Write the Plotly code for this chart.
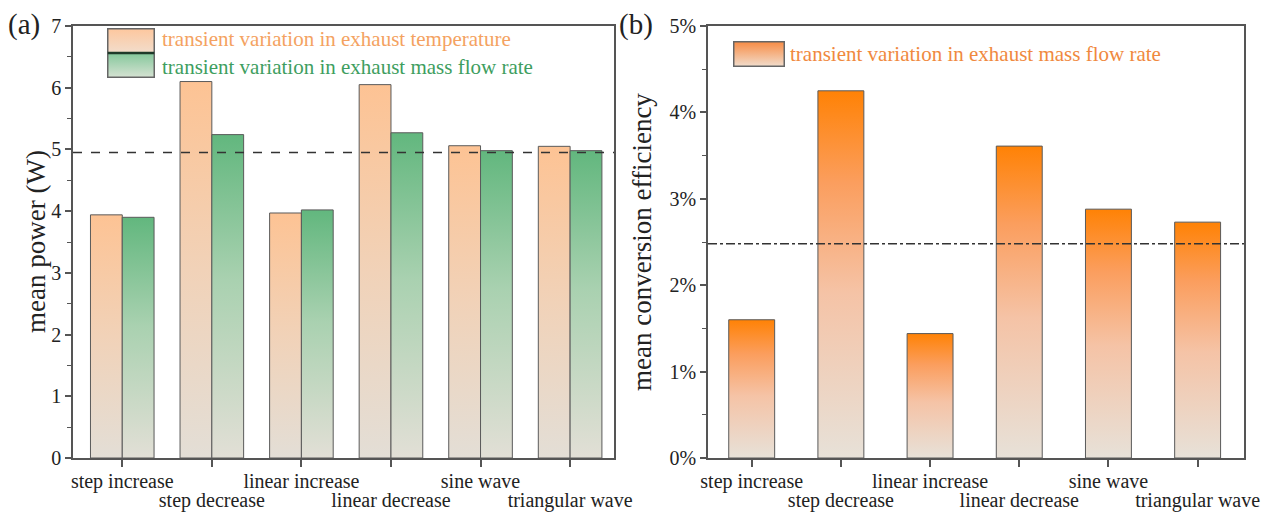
import base64
import plotly.graph_objects as go

# ---------------- data ----------------
categories = ["step increase", "step decrease", "linear increase",
              "linear decrease", "sine wave", "triangular wave"]
power_exhaust_temperature = [3.94, 6.10, 3.97, 6.05, 5.06, 5.05]
power_exhaust_mass_flow = [3.90, 5.24, 4.02, 5.27, 4.98, 4.98]
power_reference = 4.95
efficiency_mass_flow = [1.60, 4.25, 1.44, 3.61, 2.88, 2.73]
efficiency_reference = 2.48
power_ticks = [0, 1, 2, 3, 4, 5, 6, 7]
efficiency_ticks = [0, 1, 2, 3, 4, 5]
efficiency_ticktext = [f"{v}%" for v in efficiency_ticks]

# ---------------- styling ----------------
W, H = 1262, 517
FONT = "Liberation Serif, Times New Roman, serif"
AX = "#555555"
orange_scale = [[0, "#E3DED6"], [0.5, "#F1D2B8"], [1, "#FDC394"]]
green_scale = [[0, "#E2DFD6"], [0.55, "#A9D1B0"], [1, "#62B77E"]]
deep_orange_scale = [[0, "#E7E1D8"], [0.45, "#F5C3A6"], [0.75, "#FB9E5E"], [1, "#FF8205"]]


def px_x(p):
    return p / W


def px_y(p):
    return 1 - p / H


def bar(xc, val, width, scale, xa, ya, name):
    x0, x1 = xc - width / 2, xc + width / 2
    return go.Scatter(
        x=[x0, x1, x1, x0, x0], y=[0, 0, val, val, 0],
        fill="toself", mode="lines",
        line=dict(color="#5a5a5a", width=1),
        fillgradient=dict(type="vertical", colorscale=scale),
        xaxis=xa, yaxis=ya, name=name, showlegend=False,
        hovertemplate=f"{name}: %{{y}}<extra></extra>",
    )


fig = go.Figure()

w_a = 0.355
for i, cat in enumerate(categories):
    fig.add_trace(bar(i - w_a / 2, power_exhaust_temperature[i], w_a, orange_scale,
                      "x", "y", cat + " (temperature)"))
    fig.add_trace(bar(i + w_a / 2, power_exhaust_mass_flow[i], w_a, green_scale,
                      "x", "y", cat + " (mass flow)"))

w_b = 0.515
for i, cat in enumerate(categories):
    fig.add_trace(bar(i, efficiency_mass_flow[i], w_b, deep_orange_scale,
                      "x2", "y2", cat))

# empty traces so that the overlay axes carrying the second label row exist
fig.add_trace(go.Scatter(x=[], y=[], xaxis="x3", yaxis="y", showlegend=False, hoverinfo="skip"))
fig.add_trace(go.Scatter(x=[], y=[], xaxis="x4", yaxis="y2", showlegend=False, hoverinfo="skip"))

idx = list(range(len(categories)))
row2_vals = [i for i in idx if i % 2 == 1]
row2_text = [categories[i] for i in row2_vals]

tickfont = dict(family=FONT, size=20, color="#222")
xcommon = dict(tickmode="array", tickvals=idx,
               ticktext=[c if i % 2 == 0 else "" for i, c in enumerate(categories)],
               tickangle=0, automargin=False, ticklabeloverflow="allow",
               ticklabelstandoff=-3,
               ticks="outside", ticklen=7, tickwidth=1.5, tickcolor=AX,
               showline=True, linecolor=AX, linewidth=1.5, mirror=True,
               showgrid=False, zeroline=False, tickfont=tickfont)
xrow2 = dict(tickmode="array", tickvals=row2_vals, ticktext=row2_text,
             tickangle=0, automargin=False, ticklabeloverflow="allow",
             ticks="", showline=False, showgrid=False, zeroline=False,
             ticklabelstandoff=28, tickfont=tickfont, side="bottom")
ycommon = dict(ticks="outside", ticklen=6, tickwidth=1.5, tickcolor=AX,
               showline=True, linecolor=AX, linewidth=1.5, mirror=True,
               showgrid=False, zeroline=False, automargin=False,
               minor=dict(dtick=0.5, ticks="outside", ticklen=4, tickcolor=AX, tickwidth=1.2),
               tickfont=dict(family=FONT, size=20, color="#222"))

dom_a = [px_x(73), px_x(614)]
dom_b = [px_x(708), px_x(1244)]
ydom = [px_y(458), px_y(26)]
fig.update_layout(
    width=W, height=H, margin=dict(l=0, r=0, t=0, b=0, autoexpand=False),
    paper_bgcolor="white", plot_bgcolor="white",
    xaxis=dict(domain=dom_a, range=[-0.55, 5.49], anchor="y", **xcommon),
    xaxis3=dict(domain=dom_a, overlaying="x", matches="x", anchor="y", **xrow2),
    yaxis=dict(domain=ydom, range=[0, 7], anchor="x",
               tickmode="array", tickvals=power_ticks, **ycommon),
    xaxis2=dict(domain=dom_b, range=[-0.49, 5.52], anchor="y2", **xcommon),
    xaxis4=dict(domain=dom_b, overlaying="x2", matches="x2", anchor="y2", **xrow2),
    yaxis2=dict(domain=ydom, range=[0, 5], anchor="x2", tickmode="array",
                tickvals=efficiency_ticks, ticktext=efficiency_ticktext, **ycommon),
    showlegend=False,
)

# reference lines
fig.add_shape(type="line", xref="x domain", yref="y", x0=0, x1=1,
              y0=power_reference, y1=power_reference,
              line=dict(color="#333", width=1.6, dash="dash"))
fig.add_shape(type="line", xref="x2 domain", yref="y2", x0=0, x1=1,
              y0=efficiency_reference, y1=efficiency_reference,
              line=dict(color="#333", width=1.6, dash="dashdot"))

# axis titles
fig.add_annotation(text="mean power (W)", xref="paper", yref="paper",
                   x=px_x(36), y=(ydom[0] + ydom[1]) / 2, textangle=-90,
                   xanchor="center", yanchor="middle",
                   showarrow=False, font=dict(family=FONT, size=27, color="#222"))
fig.add_annotation(text="mean conversion efficiency", xref="paper", yref="paper",
                   x=px_x(642), y=(ydom[0] + ydom[1]) / 2, textangle=-90,
                   xanchor="center", yanchor="middle",
                   showarrow=False, font=dict(family=FONT, size=27, color="#222"))

# panel labels
fig.add_annotation(text="(a)", xref="paper", yref="paper", x=px_x(6), y=px_y(25),
                   xanchor="left", yanchor="middle", showarrow=False,
                   font=dict(family=FONT, size=29, color="#222"))
fig.add_annotation(text="(b)", xref="paper", yref="paper", x=px_x(617), y=px_y(25),
                   xanchor="left", yanchor="middle", showarrow=False,
                   font=dict(family=FONT, size=29, color="#222"))


# custom legends (gradient swatches as svg images)
def svg_uri(svg):
    return "data:image/svg+xml;base64," + base64.b64encode(svg.encode()).decode()


sw_a = """<svg xmlns='http://www.w3.org/2000/svg' width='48' height='50' viewBox='0 0 48 50'>
<defs>
<linearGradient id='o' x1='0' y1='0' x2='0' y2='1'><stop offset='0' stop-color='#FDC79E'/><stop offset='1' stop-color='#F2DDCC'/></linearGradient>
<linearGradient id='g' x1='0' y1='0' x2='0' y2='1'><stop offset='0' stop-color='#84C79B'/><stop offset='1' stop-color='#D5E2D2'/></linearGradient>
</defs>
<rect x='0.75' y='0.75' width='46.5' height='24.25' fill='url(#o)' stroke='#666' stroke-width='1.5'/>
<rect x='0.75' y='25' width='46.5' height='24.25' fill='url(#g)' stroke='#666' stroke-width='1.5'/>
<line x1='0.75' y1='25' x2='47.25' y2='25' stroke='#1E3A2A' stroke-width='2.5'/>
</svg>"""
sw_b = """<svg xmlns='http://www.w3.org/2000/svg' width='52' height='26' viewBox='0 0 52 26'>
<defs>
<linearGradient id='b' x1='0' y1='0' x2='0' y2='1'><stop offset='0' stop-color='#F88C45'/><stop offset='1' stop-color='#F1DCCB'/></linearGradient>
</defs>
<rect x='0.75' y='0.75' width='50.5' height='24.5' fill='url(#b)' stroke='#666' stroke-width='1.5'/>
</svg>"""

fig.add_layout_image(source=svg_uri(sw_a), xref="paper", yref="paper",
                     x=px_x(107), y=px_y(28), sizex=48 / W, sizey=50 / H,
                     xanchor="left", yanchor="top", sizing="stretch", layer="above")
fig.add_layout_image(source=svg_uri(sw_b), xref="paper", yref="paper",
                     x=px_x(733), y=px_y(41), sizex=52 / W, sizey=26 / H,
                     xanchor="left", yanchor="top", sizing="stretch", layer="above")

fig.add_annotation(text="transient variation in exhaust temperature", xref="paper", yref="paper",
                   x=px_x(161), y=px_y(39), xanchor="left", yanchor="middle", showarrow=False,
                   borderpad=0, font=dict(family=FONT, size=21, color="#F4A261"))
fig.add_annotation(text="transient variation in exhaust mass flow rate", xref="paper", yref="paper",
                   x=px_x(161), y=px_y(67), xanchor="left", yanchor="middle", showarrow=False,
                   borderpad=0, font=dict(family=FONT, size=21, color="#3E9E60"))
fig.add_annotation(text="transient variation in exhaust mass flow rate", xref="paper", yref="paper",
                   x=px_x(789), y=px_y(54), xanchor="left", yanchor="middle", showarrow=False,
                   borderpad=0, font=dict(family=FONT, size=21, color="#F0893E"))

fig.write_html("out.html")
